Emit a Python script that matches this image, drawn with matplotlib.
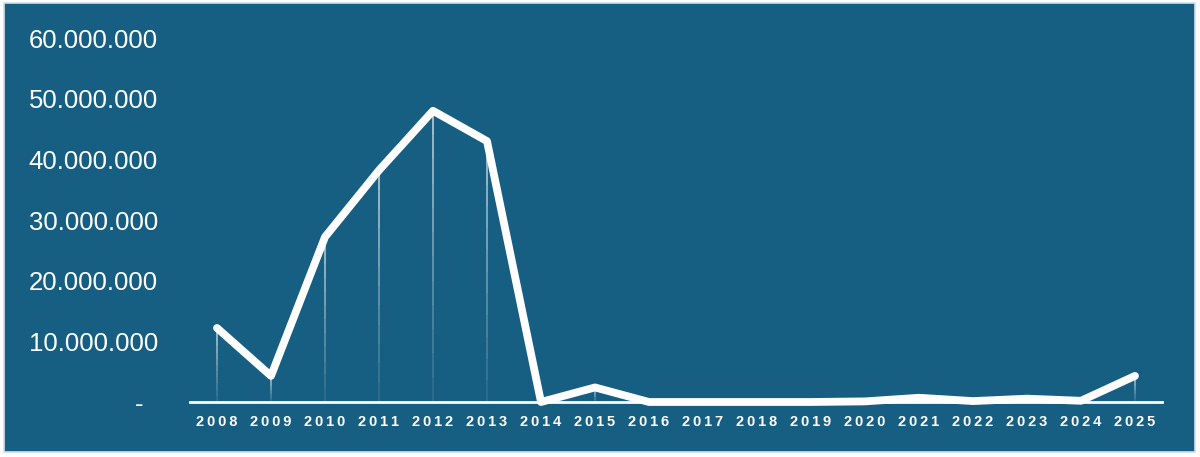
import matplotlib.pyplot as plt
from matplotlib.patches import Rectangle
from matplotlib.ticker import FuncFormatter

years = list(range(2008, 2026))
values = [12.2e6, 4.3e6, 27.2e6, 38.2e6, 48.0e6, 43.0e6, 0.0, 2.4e6, 0.0,
          0.0, 0.0, 0.0, 0.1e6, 0.7e6, 0.15e6, 0.55e6, 0.2e6, 4.3e6]
yticks = [0, 10e6, 20e6, 30e6, 40e6, 50e6, 60e6]

bg = '#175f82'
plt.rcParams['font.family'] = ['Liberation Sans', 'DejaVu Sans']


def fmt(v, pos):
    if v == 0:
        return '-  '
    return f'{int(v):,}'.replace(',', '.')


if __name__ == '__main__':
    fig = plt.figure(figsize=(12, 4.57), dpi=100, facecolor='white')
    fig.patches.append(Rectangle((4 / 1200, 5 / 457), 1191 / 1200, 449 / 457,
                                 transform=fig.transFigure, facecolor=bg,
                                 edgecolor='#cfe0ea', linewidth=1.2, zorder=-5))
    ax = fig.add_axes([190 / 1200, 55 / 457, 972 / 1200, 364 / 457])
    ax.set_facecolor('none')

    # drop lines, fading toward the baseline
    n = 12
    for x, v in zip(years, values):
        for i in range(n):
            ax.plot([x, x], [v * i / n, v * (i + 1) / n], color='white',
                    lw=1.1, alpha=0.05 + 0.7 * (i + 1) / n,
                    solid_capstyle='butt', zorder=2)

    ax.plot(years, values, color='white', lw=5.6, solid_joinstyle='round',
            solid_capstyle='round', zorder=3, clip_on=False)

    ax.set_xlim(2007.5, 2025.5)
    ax.set_ylim(0, 60e6)
    ax.set_yticks(yticks)
    ax.yaxis.set_major_formatter(FuncFormatter(fmt))
    ax.set_xticks(years)
    ax.set_xticklabels(['\u2009'.join(str(y)) for y in years])

    for s in ['top', 'right', 'left']:
        ax.spines[s].set_visible(False)
    ax.spines['bottom'].set_color('white')
    ax.spines['bottom'].set_linewidth(2)
    ax.spines['bottom'].set_zorder(4)

    ax.tick_params(axis='y', length=0, pad=23, labelsize=18.5, labelcolor='white')
    ax.tick_params(axis='x', length=0, pad=9, labelsize=10.5, labelcolor='white')
    for lab in ax.get_xticklabels():
        lab.set_fontweight('bold')

    plt.savefig('out.png', dpi=100, facecolor='white')
